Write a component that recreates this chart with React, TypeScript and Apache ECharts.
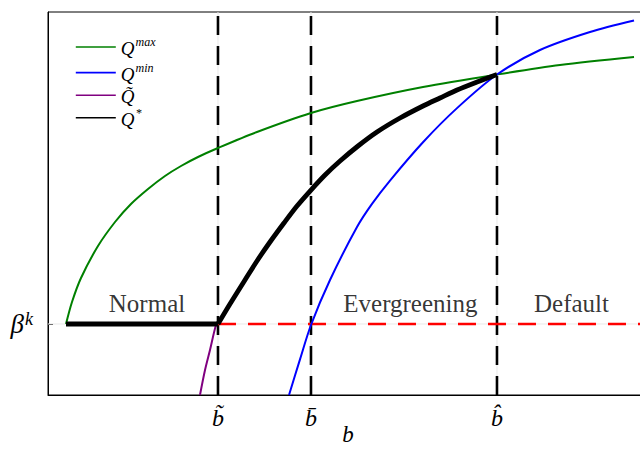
import React, { useEffect, useRef } from "react";
import * as echarts from "echarts";

// ---- data (axis units: b from 0 to 100, Q from 0 to 100) ----
const X_MIN = 0;
const X_MAX = 100;
const Y_MIN = 0;
const Y_MAX = 100;

const bTickValues = [28.33, 43.83, 74.83];
const bTickLabels = ["b\u0303", "b\u0304", "b\u0302"];
const betaK = 18.54;

const qMax: number[][] = [
  [3.0, 18.54], [4.0, 24.28], [5.5, 30.55], [8.33, 38.9], [11.17, 45.17],
  [13.83, 49.87], [16.67, 53.79], [19.5, 57.18], [22.17, 59.79], [25.0, 62.14],
  [28.33, 64.49], [34.83, 68.67], [43.83, 73.63], [51.5, 76.76], [62.5, 80.42],
  [74.83, 83.68], [85.33, 86.16], [97.67, 88.25],
];
const qMin: number[][] = [
  [40.17, 0], [42.0, 9.3], [43.83, 18.28], [47.0, 30.03], [51.5, 43.86],
  [54.0, 49.9], [57.0, 56.0], [62.5, 66.0], [68.17, 74.9], [74.83, 83.68],
  [82.0, 90.08], [90.33, 94.78], [97.67, 97.78],
];
const qTilde: number[][] = [
  [25.33, 0], [26.17, 6.53], [27.0, 11.75], [28.0, 18.28], [28.33, 18.54],
];
const qStarFlat: number[][] = [
  [3.0, 18.54], [28.33, 18.54],
];
const qStarCurve: number[][] = [
  [28.33, 18.54], [30.33, 23.76], [32.83, 30.03], [34.83, 34.99], [37.0, 39.95],
  [39.33, 44.91], [41.5, 49.35], [43.83, 53.52], [46.17, 57.44], [48.67, 61.1],
  [51.67, 65.01], [54.83, 68.67], [58.67, 72.32], [62.5, 75.46], [65.33, 77.55],
  [68.17, 79.63], [71.5, 81.72], [74.83, 83.68],
];

const regionNames = ["Normal", "Evergreening", "Default"];
const regionX = [16.5, 60.4, 87.25];
const regionY = 23.8;

const legendNames = ["Qmax", "Qmin", "Qtilde", "Qstar"];
const legendMain = ["Q", "Q", "Q\u0303", "Q"];
const legendSup = ["max", "min", "", "*"];
const seriesColors = ["#008000", "#0000ff", "#800080", "#000000"];

const SERIF = "'Liberation Serif', 'DejaVu Serif', serif";

export default function App() {
  const ref = useRef<HTMLDivElement>(null);

  useEffect(() => {
    if (!ref.current) return;
    const chart = echarts.init(ref.current, undefined, { renderer: "svg" });

    const gridLineSeries = [
      {
        type: "line",
        data: [[X_MIN, betaK], [X_MAX, betaK]],
      },
      ...bTickValues.map((v) => ({
        type: "line",
        data: [[v, Y_MIN], [v, Y_MAX]],
      })),
    ].map((s) => ({
      ...s,
      symbol: "none",
      silent: true,
      z: 1,
      lineStyle: { color: "#e8e8e8", width: 1 },
    }));

    const vDashSeries = bTickValues.map((v) => ({
      type: "line",
      data: [[v, Y_MIN], [v, Y_MAX]],
      symbol: "none",
      silent: true,
      z: 2,
      lineStyle: { color: "#000", width: 2.6, type: [19, 11] },
    }));

    const curve = (name: string, data: number[][], idx: number, width: number, smooth: any, z: number) => ({
      name,
      type: "line",
      data,
      symbol: "none",
      smooth,
      z,
      color: seriesColors[idx],
      lineStyle: { color: seriesColors[idx], width },
    });

    const option: any = {
      animation: false,
      grid: {
        left: 48,
        top: 12,
        right: 12,
        bottom: 54,
        outerBoundsMode: "none",
        containLabel: false,
        show: true,
        borderColor: "#000",
        borderWidth: 1,
        backgroundColor: "transparent",
      },
      legend: {
        show: true,
        orient: "vertical",
        left: 70,
        top: 31,
        padding: 5,
        itemWidth: 40,
        itemHeight: 12,
        itemGap: 0.6,
        itemStyle: { opacity: 0 },
        data: legendNames.map((n, i) => ({
          name: n,
          itemStyle: { opacity: 0 },
          lineStyle: { color: seriesColors[i], width: 1.6, opacity: 1 },
        })),
        formatter: (name: string) => {
          const i = legendNames.indexOf(name);
          const sup = legendSup[i];
          return sup ? `{q|${legendMain[i]}}{s|${sup}}` : `{q|${legendMain[i]}}`;
        },
        textStyle: {
          rich: {
            q: {
              fontFamily: SERIF,
              fontStyle: "italic",
              fontSize: 19,
              color: "#000",
              lineHeight: 22,
              verticalAlign: "bottom",
            },
            s: {
              fontFamily: SERIF,
              fontStyle: "italic",
              fontSize: 12,
              color: "#000",
              lineHeight: 22,
              verticalAlign: "top",
              padding: [0, 0, 13, 1],
            },
          },
        },
      },
      xAxis: {
        type: "value",
        min: X_MIN,
        max: X_MAX,
        name: "b",
        nameLocation: "middle",
        nameGap: 28,
        nameMoveOverlap: false,
        nameTextStyle: {
          fontFamily: SERIF,
          fontStyle: "italic",
          fontSize: 23,
          color: "#000",
        },
        axisLine: { show: true, lineStyle: { color: "#000", width: 1 } },
        axisTick: {
          show: true,
          inside: true,
          length: 5,
          customValues: bTickValues,
          lineStyle: { color: "#000" },
        },
        axisLabel: {
          show: true,
          customValues: bTickValues,
          margin: 11,
          fontFamily: SERIF,
          fontStyle: "italic",
          fontSize: 24,
          color: "#000",
          formatter: (v: number) => {
            let best = 0;
            for (let i = 1; i < bTickValues.length; i++) {
              if (Math.abs(bTickValues[i] - v) < Math.abs(bTickValues[best] - v)) best = i;
            }
            return bTickLabels[best];
          },
        },
        splitLine: { show: false },
      },
      yAxis: {
        type: "value",
        min: Y_MIN,
        max: Y_MAX,
        axisLine: { show: true, lineStyle: { color: "#000", width: 1 } },
        axisTick: {
          show: true,
          inside: true,
          length: 5,
          customValues: [betaK],
          lineStyle: { color: "#000" },
        },
        axisLabel: {
          show: true,
          customValues: [betaK],
          margin: 15,
          formatter: () => "{b|\u03B2}{k|k}",
          rich: {
            b: {
              fontFamily: SERIF,
              fontStyle: "italic",
              fontSize: 27,
              color: "#000",
              lineHeight: 28,
              verticalAlign: "bottom",
            },
            k: {
              fontFamily: SERIF,
              fontStyle: "italic",
              fontSize: 18,
              color: "#000",
              lineHeight: 28,
              verticalAlign: "top",
              padding: [0, 0, 18, 1],
            },
          },
        },
        splitLine: { show: false },
      },
      series: [
        ...gridLineSeries,
        ...vDashSeries,
        {
          type: "line",
          data: [[bTickValues[0], betaK], [X_MAX, betaK]],
          symbol: "none",
          silent: true,
          z: 3,
          lineStyle: { color: "#ff0000", width: 2.6, type: [18, 12] },
        },
        curve("Qmax", qMax, 0, 2, 0.3, 4),
        curve("Qmin", qMin, 1, 2, 0.3, 4),
        curve("Qtilde", qTilde, 2, 2, 0.3, 4),
        curve("Qstar", qStarFlat, 3, 4.8, false, 5),
        curve("Qstar", qStarCurve, 3, 4.8, 0.3, 5),
        {
          type: "scatter",
          silent: true,
          symbolSize: 0,
          z: 6,
          data: regionNames.map((n, i) => ({ name: n, value: [regionX[i], regionY] })),
          label: {
            show: true,
            position: "inside",
            formatter: (p: any) => p.name,
            fontFamily: SERIF,
            fontSize: 25,
            color: "#000",
          },
        },
      ],
    };

    chart.setOption(option);
    return () => chart.dispose();
  }, []);

  return (
    <div
      ref={ref}
      style={{ position: "fixed", left: 0, top: 0, width: 660, height: 449, background: "#fff" }}
    />
  );
}
